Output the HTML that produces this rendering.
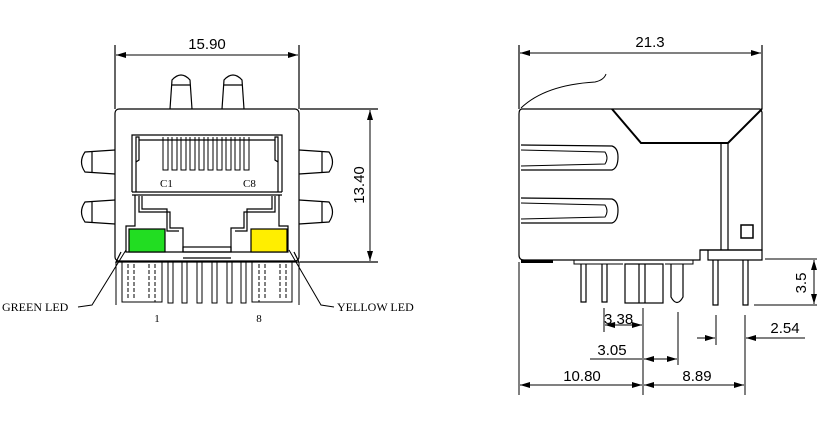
<!DOCTYPE html>
<html><head><meta charset="utf-8"><style>
html,body{margin:0;padding:0;background:#fff;width:817px;height:427px;overflow:hidden}
svg{display:block}
text{font-family:"Liberation Sans",sans-serif;fill:#000}
.s{font-family:"Liberation Serif",serif}
</style></head><body>
<svg width="817" height="427" viewBox="0 0 817 427" fill="none" stroke="#000" stroke-width="1.2">
<defs><marker id="a" viewBox="0 0 10 6" refX="10" refY="3" markerWidth="10" markerHeight="6" orient="auto-start-reverse"><path d="M0,0L10,3L0,6z" fill="#000" stroke="none"/></marker></defs>
<!-- LEFT VIEW -->
<line x1="115" y1="45" x2="115" y2="109"/><line x1="299" y1="45" x2="299" y2="109"/>
<line x1="116" y1="55" x2="298" y2="55" marker-start="url(#a)" marker-end="url(#a)" stroke-width="1"/>
<text x="207" y="49" font-size="15" text-anchor="middle" stroke="none">15.90</text>
<line x1="300" y1="109" x2="378" y2="109"/><line x1="300" y1="262" x2="378" y2="262"/>
<line x1="370" y1="110" x2="370" y2="261" marker-start="url(#a)" marker-end="url(#a)" stroke-width="1"/>
<text x="0" y="0" font-size="15" text-anchor="middle" stroke="none" transform="translate(364,185) rotate(-90)">13.40</text>
<!-- posts -->
<path d="M170,109 L172,80 Q181,70 190,80 L192,109"/><line x1="172" y1="85" x2="190" y2="85"/>
<path d="M222,109 L224,80 Q233,70 242,80 L244,109"/><line x1="224" y1="85" x2="242" y2="85"/>
<!-- ears -->
<path d="M115,150 L85,152 Q78,162 85,172 L115,174"/><line x1="92" y1="151" x2="92" y2="173"/>
<path d="M115,200 L85,202 Q78,212 85,222 L115,224"/><line x1="92" y1="201" x2="92" y2="223"/>
<path d="M299,150 L329,152 Q336,162 329,172 L299,174"/><line x1="322" y1="151" x2="322" y2="173"/>
<path d="M299,200 L329,202 Q336,212 329,222 L299,224"/><line x1="322" y1="201" x2="322" y2="223"/>
<!-- body -->
<rect x="115" y="109" width="184" height="152" rx="4"/>
<path d="M132,192 L132,135 L282,135 L282,192"/>
<path d="M136,192 L136,137 L139,137 L139,160 L136,162"/><path d="M278,192 L278,137 L275,137 L275,160 L278,162"/>
<path d="M139,140 L275,140"/>
<g stroke-width="1">
<path d="M163,137V170h5V137M172,137V170h5V137M181,137V170h5V137M190,137V170h5V137M199,137V170h5V137M208,137V170h5V137M217,137V170h5V137M226,137V170h5V137M235,137V170h5V137M244,137V170h5V137"/>
</g>
<text x="160" y="187" font-size="11" class="s" stroke="none">C1</text>
<text x="243" y="187" font-size="11" class="s" stroke="none">C8</text>
<line x1="132" y1="192" x2="282" y2="192"/><line x1="132" y1="195" x2="282" y2="195"/>
<path d="M135,195 L135,226 L126,226 L126,252 L288,252 L288,226 L279,226 L279,195"/>
<path d="M139,196 L139,212 L170,212 L170,228 L183,228 L183,252"/>
<path d="M142,196 L142,209 L167,209 L167,231 L179,231"/>
<path d="M275,196 L275,212 L244,212 L244,228 L231,228 L231,252"/>
<path d="M272,196 L272,209 L247,209 L247,231 L235,231"/>
<rect x="183" y="247" width="48" height="5"/>
<rect x="129" y="229" width="36" height="23" fill="#22dd22" stroke="#000"/>
<rect x="251" y="229" width="36" height="23" fill="#ffee00" stroke="#000"/>
<path d="M121,252 L116,262 L299,262 L294,252"/><line x1="183" y1="258" x2="231" y2="258"/>
<!-- pins -->
<g stroke-width="1">
<path d="M116,262V305M299,262V305"/>
<rect x="122" y="262" width="40" height="40"/><rect x="252" y="262" width="40" height="40"/>
<path d="M128,264V300M155,264V302M286,264V300M259,264V302" stroke-dasharray="4,2"/>
<path d="M134,264V300M149,264V300M280,264V300M265,264V300" stroke-dasharray="4,2"/>
<path d="M168,262V303h5V262M182,262V303h5V262M197,262V303h5V262M212,262V303h5V262M227,262V303h5V262M241,262V303h5V262"/>
</g>
<text x="157" y="322" font-size="11" class="s" text-anchor="middle" stroke="none">1</text>
<text x="259" y="322" font-size="11" class="s" text-anchor="middle" stroke="none">8</text>
<path d="M126,250 L92,305 L78,307" stroke-width="1"/>
<path d="M289,250 L321,305 L334,307" stroke-width="1"/>
<text x="2" y="311" font-size="12" class="s" stroke="none">GREEN LED</text>
<text x="337" y="311" font-size="12" class="s" stroke="none">YELLOW LED</text>
<!-- RIGHT VIEW -->
<line x1="519" y1="45" x2="519" y2="109"/><line x1="762" y1="45" x2="762" y2="109"/>
<line x1="520" y1="53" x2="761" y2="53" marker-start="url(#a)" marker-end="url(#a)" stroke-width="1"/>
<text x="650" y="47" font-size="15" text-anchor="middle" stroke="none">21.3</text>
<path d="M521,108 Q545,85 595,82 Q604,80 606,74" stroke-width="1"/>
<path d="M522,109 L760,109 L762,112 L762,250 L700,250 L700,260 L524,260 Q519,260 519,255 L519,114 Q519,109 522,109z"/>
<path d="M612,109 L641,143 L728,143 L762,109" stroke-width="2"/>
<path d="M721,143 V250 M728,143 V250"/>
<path d="M700,250 H762 V260 H708 V250"/>
<path d="M521,145 L612,146 Q618,148 618,157 Q618,168 612,170 L521,170"/>
<path d="M521,150 L605,152 Q609,158 605,164 L521,166" stroke-width="1"/>
<path d="M521,198 L612,199 Q618,201 618,210 Q618,221 612,223 L521,223"/>
<path d="M521,203 L605,205 Q609,211 605,217 L521,219" stroke-width="1"/>
<rect x="741" y="225" width="12" height="13" stroke-width="1.5"/>
<rect x="521" y="260" width="32" height="3" fill="#000" stroke="none"/>
<path d="M574,260 V264 H623 M665,264 H693 V260" stroke-width="1"/>
<g stroke-width="1.2">
<path d="M581,264V302h5V264M602,264V302h5V264"/>
<rect x="625" y="264" width="38" height="39"/><line x1="639" y1="264" x2="639" y2="303"/><line x1="645" y1="264" x2="645" y2="303"/>
<path d="M671,264V297Q677,308 683,297V264"/>
<path d="M713,260V305h5V260M743,260V305h5V260"/>
</g>
<!-- dims right -->
<g stroke-width="1">
<line x1="765" y1="259" x2="820" y2="259"/><line x1="754" y1="305" x2="820" y2="305"/>
<line x1="814" y1="260" x2="814" y2="304" marker-start="url(#a)" marker-end="url(#a)"/>
<line x1="716" y1="315" x2="716" y2="345"/><line x1="745" y1="315" x2="745" y2="395"/>
<line x1="697" y1="338" x2="715" y2="338" marker-end="url(#a)"/><line x1="805" y1="338" x2="746" y2="338" marker-end="url(#a)"/>
<line x1="604" y1="308" x2="604" y2="332"/><line x1="643" y1="308" x2="643" y2="395"/>
<line x1="605" y1="325" x2="642" y2="325" marker-start="url(#a)" marker-end="url(#a)"/>
<line x1="678" y1="312" x2="678" y2="365"/>
<line x1="590" y1="359" x2="642" y2="359"/><line x1="644" y1="359" x2="677" y2="359" marker-start="url(#a)" marker-end="url(#a)"/>
<line x1="519" y1="262" x2="519" y2="395"/>
<line x1="520" y1="385" x2="642" y2="385" marker-start="url(#a)" marker-end="url(#a)"/>
<line x1="644" y1="385" x2="744" y2="385" marker-start="url(#a)" marker-end="url(#a)"/>
</g>
<text x="0" y="0" font-size="15" text-anchor="middle" stroke="none" transform="translate(806,283) rotate(-90)">3.5</text>
<text x="604" y="324" font-size="15" stroke="none">3.38</text>
<text x="612" y="355" font-size="15" text-anchor="middle" stroke="none">3.05</text>
<text x="785" y="333" font-size="15" text-anchor="middle" stroke="none">2.54</text>
<text x="582" y="381" font-size="15" text-anchor="middle" stroke="none">10.80</text>
<text x="697" y="381" font-size="15" text-anchor="middle" stroke="none">8.89</text>
</svg>
</body></html>
